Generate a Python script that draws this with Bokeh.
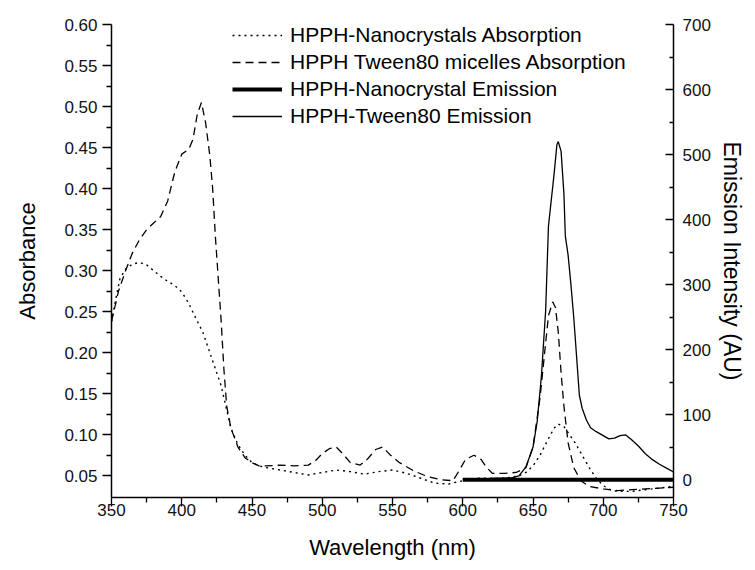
from bokeh.plotting import figure
from bokeh.models import (Range1d, LinearAxis, FixedTicker, NumeralTickFormatter,
                          Legend, LegendItem)
from bokeh.embed import file_html
from bokeh.resources import INLINE

# ---------------- data ----------------
nc_abs_wl = [350, 353, 356, 360, 365, 370, 375, 380, 385, 390, 395, 400, 405, 410, 415,
             420, 425, 428, 432, 435, 440, 445, 450, 455, 460, 470, 480, 490, 500, 510,
             520, 530, 540, 550, 560, 570, 580, 590, 600, 610, 620, 630, 640, 645, 650,
             655, 660, 665, 668, 672, 676, 680, 685, 690, 695, 700, 705, 710, 720, 730,
             740, 750]
nc_abs = [0.238, 0.265, 0.290, 0.302, 0.308, 0.310, 0.307, 0.300, 0.293, 0.287, 0.282,
          0.274, 0.260, 0.242, 0.225, 0.200, 0.175, 0.160, 0.130, 0.108, 0.088, 0.075,
          0.066, 0.062, 0.060, 0.057, 0.054, 0.051, 0.054, 0.057, 0.055, 0.052, 0.055,
          0.057, 0.053, 0.047, 0.041, 0.040, 0.044, 0.047, 0.047, 0.047, 0.050, 0.054,
          0.062, 0.075, 0.092, 0.108, 0.113, 0.110, 0.100, 0.090, 0.075, 0.060, 0.047,
          0.038, 0.033, 0.031, 0.031, 0.033, 0.035, 0.037]

mic_abs_wl = [350, 355, 360, 365, 370, 375, 380, 385, 390, 395, 400, 405, 408, 411, 414,
              417, 420, 422, 424, 426, 428, 430, 432, 435, 440, 445, 450, 455, 460, 470,
              480, 490, 495, 500, 505, 510, 515, 520, 527, 532, 538, 543, 548, 555, 565,
              575, 585, 593, 597, 602, 608, 613, 617, 621, 630, 638, 645, 650, 655, 658,
              661, 664, 666, 668, 670, 672, 675, 679, 684, 690, 700, 710, 720, 730, 740,
              750]
mic_abs = [0.238, 0.275, 0.300, 0.322, 0.338, 0.350, 0.358, 0.366, 0.385, 0.420, 0.442,
           0.448, 0.460, 0.490, 0.505, 0.480, 0.440, 0.400, 0.340, 0.290, 0.240, 0.180,
           0.135, 0.108, 0.085, 0.072, 0.066, 0.062, 0.062, 0.063, 0.062, 0.063, 0.068,
           0.077, 0.083, 0.085, 0.076, 0.066, 0.063, 0.070, 0.082, 0.085, 0.076, 0.066,
           0.056, 0.049, 0.045, 0.044, 0.055, 0.070, 0.075, 0.070, 0.060, 0.053, 0.053,
           0.054, 0.060, 0.085, 0.145, 0.195, 0.245, 0.262, 0.255, 0.225, 0.175, 0.135,
           0.090, 0.060, 0.044, 0.037, 0.034, 0.032, 0.033, 0.034, 0.035, 0.036]

nc_em_wl = [600, 650, 700, 750]
nc_em = [0, 0, 0, 0]

tw_em_wl = [600, 620, 635, 640, 645, 650, 653, 656, 659, 661, 663, 665, 667, 668, 670,
            672, 673, 675, 677, 679, 681, 683, 685, 688, 691, 695, 700, 704, 708, 712,
            716, 720, 725, 730, 735, 740, 745, 750]
tw_em = [1, 2, 3, 6, 20, 50, 90, 160, 260, 390, 430, 470, 515, 520, 505, 440, 375, 345,
         300, 250, 190, 130, 110, 92, 80, 74, 68, 63, 64, 68, 69, 62, 52, 40, 31, 24, 18,
         12]

x_ticks = [350, 400, 450, 500, 550, 600, 650, 700, 750]
x_minor = [375, 425, 475, 525, 575, 625, 675, 725]
abs_ticks = [0.05, 0.10, 0.15, 0.20, 0.25, 0.30, 0.35, 0.40, 0.45, 0.50, 0.55, 0.60]
abs_minor = [0.075, 0.125, 0.175, 0.225, 0.275, 0.325, 0.375, 0.425, 0.475, 0.525, 0.575]
em_ticks = [0, 100, 200, 300, 400, 500, 600, 700]
em_minor = [50, 150, 250, 350, 450, 550, 650]

FONT = "Liberation Sans"

p = figure(width=747, height=562, output_backend="svg", toolbar_location=None,
           x_range=Range1d(350, 750), y_range=Range1d(0.0235, 0.60),
           min_border_left=111, min_border_right=74, min_border_top=24,
           min_border_bottom=65)
p.extra_y_ranges = {"em": Range1d(-27.2, 700)}
p.outline_line_color = None
p.grid.visible = False
p.background_fill_color = "white"
p.border_fill_color = "white"

r1 = p.line(nc_abs_wl, nc_abs, line_color="black", line_width=1.4, line_dash="2 4")
r2 = p.line(mic_abs_wl, mic_abs, line_color="black", line_width=1.3, line_dash="8 5")
r3 = p.line(nc_em_wl, nc_em, line_color="black", line_width=4, y_range_name="em")
r4 = p.line(tw_em_wl, tw_em, line_color="black", line_width=1.3, y_range_name="em")

right = LinearAxis(y_range_name="em")
p.add_layout(right, "right")

def style(ax, label, ticks, minor, out, lsize):
    ax.axis_label = label
    ax.ticker = FixedTicker(ticks=ticks, minor_ticks=minor)
    ax.axis_label_text_font = FONT
    ax.axis_label_text_font_size = lsize
    ax.axis_label_text_font_style = "normal"
    ax.axis_label_text_color = "black"
    ax.major_label_text_font = FONT
    ax.major_label_text_font_size = "17px"
    ax.major_label_text_color = "#111111"
    ax.axis_line_color = "black"
    ax.axis_line_width = 1.5
    ax.major_tick_line_color = "black"
    ax.minor_tick_line_color = "black"
    ax.major_tick_line_width = 1.3
    ax.minor_tick_line_width = 1.3
    if out:
        ax.major_tick_out = 9
        ax.major_tick_in = 0
        ax.minor_tick_out = 5
        ax.minor_tick_in = 0
    else:
        ax.major_tick_out = 0
        ax.major_tick_in = 8
        ax.minor_tick_out = 0
        ax.minor_tick_in = 4

xa = p.xaxis[0]
style(xa, "Wavelength (nm)", x_ticks, x_minor, True, "22px")
xa.major_label_standoff = -3
xa.axis_label_standoff = 16

la = p.yaxis[0]
style(la, "Absorbance", abs_ticks, abs_minor, True, "22px")
la.formatter = NumeralTickFormatter(format="0.00")
la.major_label_standoff = 5
la.axis_label_standoff = 21

style(right, "Emission Intensity (AU)", em_ticks, em_minor, False, "23px")
right.major_label_standoff = 9
right.axis_label_standoff = 5

legend = Legend(items=[
    LegendItem(label="HPPH-Nanocrystals Absorption", renderers=[r1]),
    LegendItem(label="HPPH Tween80 micelles Absorption", renderers=[r2]),
    LegendItem(label="HPPH-Nanocrystal Emission", renderers=[r3]),
    LegendItem(label="HPPH-Tween80 Emission", renderers=[r4]),
], location=(121, 369))
legend.label_text_font = FONT
legend.label_text_font_size = "21px"
legend.label_text_color = "black"
legend.glyph_width = 50
legend.glyph_height = 24
legend.label_height = 24
legend.spacing = 3
legend.padding = 0
legend.margin = 0
legend.label_standoff = 8
legend.background_fill_alpha = 0
legend.border_line_alpha = 0
p.add_layout(legend)

open("out.html", "w").write(file_html(p, INLINE))
